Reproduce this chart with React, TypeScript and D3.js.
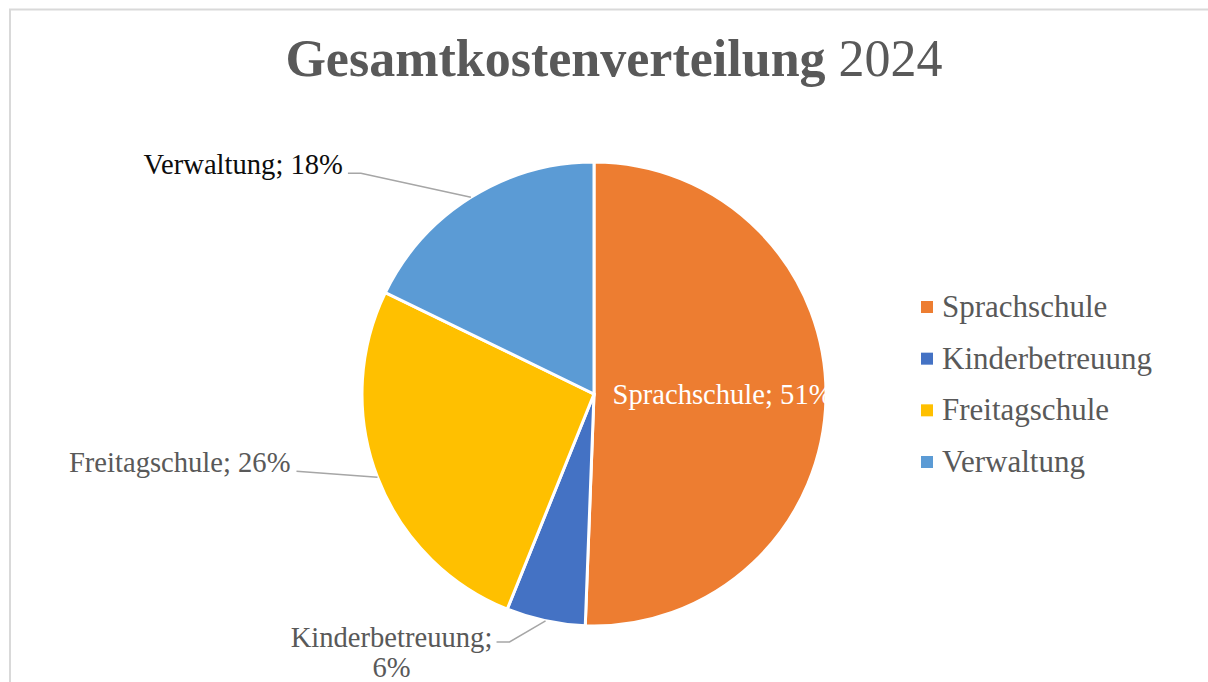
import React from "react";
import * as d3 from "d3";

const categories = ["Sprachschule", "Kinderbetreuung", "Freitagschule", "Verwaltung"];
const shares = [50.6, 5.5, 26.1, 17.8];
const shareLabels = ["51%", "6%", "26%", "18%"];
const colors = ["#ED7D31", "#4472C4", "#FFC000", "#5B9BD5"];

const W = 1208;
const H = 682;
const FONT = "'Liberation Serif', 'Times New Roman', serif";
const GREY = "#595959";
const LABEL_SIZE = 28.6;

const cx = 594;
const cy = 394;
const radius = 232;

type Slice = d3.PieArcDatum<number>;

const App = () => {
  const pie = d3.pie<number>().sort(null).startAngle(0).endAngle(2 * Math.PI);
  const arcs = pie(shares);
  const arc = d3.arc<Slice>().innerRadius(0).outerRadius(radius);

  const edge = (a: Slice, r = radius) => {
    const m = (a.startAngle + a.endAngle) / 2;
    return [cx + r * Math.sin(m), cy - r * Math.cos(m)];
  };

  // outside labels: text anchor + elbow of the leader line
  const renderOutside = (a: Slice, i: number) => {
    const [ex, ey] = edge(a);
    const label = `${categories[i]}; ${shareLabels[i]}`;
    if (i === 3) {
      const ly = ey - 24;
      const lx = ex - 110;
      return (
        <g key={i}>
          <polyline
            points={`${lx - 13},${ly} ${lx},${ly} ${ex},${ey}`}
            fill="none"
            stroke="#a6a6a6"
            strokeWidth={1.5}
          />
          <text x={lx - 18} y={ly + 1} textAnchor="end" fontSize={LABEL_SIZE} fill="#0d0d0d" fontFamily={FONT}>
            {label}
          </text>
        </g>
      );
    }
    if (i === 2) {
      const ly = ey - 6;
      const lx = ex - 81;
      return (
        <g key={i}>
          <polyline points={`${lx},${ly} ${ex},${ey}`} fill="none" stroke="#a6a6a6" strokeWidth={1.5} />
          <text x={lx - 6} y={ly + 1} textAnchor="end" fontSize={LABEL_SIZE} fill={GREY} fontFamily={FONT}>
            {label}
          </text>
        </g>
      );
    }
    if (i === 1) {
      const ly = ey + 21;
      const lx = ex - 36;
      return (
        <g key={i}>
          <polyline
            points={`${lx - 13},${ly} ${lx},${ly} ${ex},${ey}`}
            fill="none"
            stroke="#a6a6a6"
            strokeWidth={1.5}
          />
          <text textAnchor="middle" fontSize={LABEL_SIZE} fill={GREY} fontFamily={FONT}>
            <tspan x={lx - 118} y={ly + 5}>{`${categories[i]};`}</tspan>
            <tspan x={lx - 118} y={ly + 35}>{shareLabels[i]}</tspan>
          </text>
        </g>
      );
    }
    return null;
  };

  const inner = arcs[0];
  const [ix, iy] = edge(inner, radius * 0.08);

  const legendY = d3.scalePoint<string>().domain(categories).range([307, 462]);

  return (
    <svg width={W} height={H} style={{ position: "absolute", left: 0, top: 0, background: "#fff" }}>
      <rect x={10} y={9.5} width={W + 20} height={H + 20} fill="#fff" stroke="#d9d9d9" strokeWidth={2} />

      <text x={614} y={76} textAnchor="middle" fontSize={52} fill={GREY} fontFamily={FONT}>
        <tspan fontWeight="bold">Gesamtkostenverteilung</tspan>
        <tspan> 2024</tspan>
      </text>

      <g transform={`translate(${cx},${cy})`}>
        {arcs.map((a, i) => (
          <path key={i} d={arc(a) ?? ""} fill={colors[i]} stroke="#fff" strokeWidth={3} />
        ))}
      </g>

      <text x={ix} y={iy + 10} fontSize={LABEL_SIZE} fill="#fff" fontFamily={FONT}>
        {`${categories[0]}; ${shareLabels[0]}`}
      </text>

      {arcs.map((a, i) => renderOutside(a, i))}

      <g>
        {categories.map((c, i) => (
          <g key={c} transform={`translate(921,${legendY(c)})`}>
            <rect x={0} y={-6} width={12} height={12} fill={colors[i]} />
            <text x={21} y={10} fontSize={31} fill={GREY} fontFamily={FONT}>
              {c}
            </text>
          </g>
        ))}
      </g>
    </svg>
  );
};

export default App;
